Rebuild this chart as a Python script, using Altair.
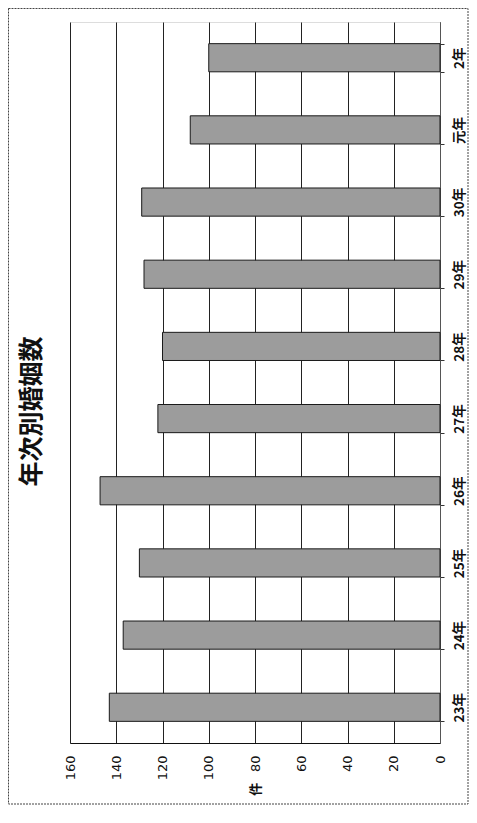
import altair as alt
import pandas as pd

categories = ["23年", "24年", "25年", "26年", "27年", "28年", "29年", "30年", "元年", "2年"]
counts = [143, 137, 130, 147, 122, 120, 128, 129, 108, 100]
value_ticks = [0, 20, 40, 60, 80, 100, 120, 140, 160]

df = pd.DataFrame({"年": categories, "件数": counts})
order_top_to_bottom = list(reversed(categories))

PW, PH = 370, 721
PAD = {"left": 62, "top": 14, "right": 29, "bottom": 62}

bars = alt.Chart(df).mark_bar(
    fill="#9c9c9c", stroke="#1a1a1a", strokeWidth=1
).encode(
    y=alt.Y(
        "年:N",
        sort=order_top_to_bottom,
        scale=alt.Scale(paddingInner=0.61, paddingOuter=0.3),
        axis=alt.Axis(
            orient="right", title=None, labelAngle=270, labelAlign="center",
            labelBaseline="top", labelFontSize=13.5, labelFontWeight="bold",
            labelFont="Noto Sans CJK JP", labelColor="#111",
            tickBand="extent", ticks=True, tickSize=4, tickColor="#333",
            labelPadding=8, domain=True, domainColor="#555", domainWidth=1,
            grid=False,
        ),
    ),
    x=alt.X(
        "件数:Q",
        scale=alt.Scale(domain=[0, 160], reverse=True, nice=False),
        axis=alt.Axis(
            values=value_ticks, orient="bottom", title="件", titleAngle=270,
            titleFont="Noto Sans CJK JP", titleFontSize=13, titleFontWeight="bold",
            titleColor="#111", titlePadding=9, titleBaseline="middle", titleAlign="center",
            labelAngle=270, labelAlign="right", labelBaseline="middle",
            labelFontSize=13, labelFont="DejaVu Sans", labelColor="#111", labelPadding=12,
            ticks=False, domain=True, domainColor="#111", domainWidth=1.2,
            grid=True, gridColor="#222", gridWidth=1, gridOpacity=1,
        ),
    ),
)

frame = alt.Chart(pd.DataFrame({"f": [0]})).mark_rect(
    filled=False, stroke="#444", strokeWidth=1, strokeDash=[2, 1]
).encode(
    x=alt.value(-PAD["left"] + 0.5),
    x2=alt.value(PW + PAD["right"] - 1),
    y=alt.value(-PAD["top"] + 0.5),
    y2=alt.value(PH + PAD["bottom"] - 1),
)

chart = alt.layer(bars, frame).properties(
    width=PW,
    height=PH,
    padding=PAD,
    autosize=alt.AutoSizeParams(type="none"),
    title=alt.TitleParams(
        "年次別婚姻数", orient="left", anchor="middle", offset=23, dy=60, dx=-29,
        font="Noto Sans CJK JP", fontSize=25, fontWeight="bold", color="#111",
    ),
).configure_view(stroke=None).configure(background="white")

chart.save("out.html", embed_options={"renderer": "svg", "actions": False})
